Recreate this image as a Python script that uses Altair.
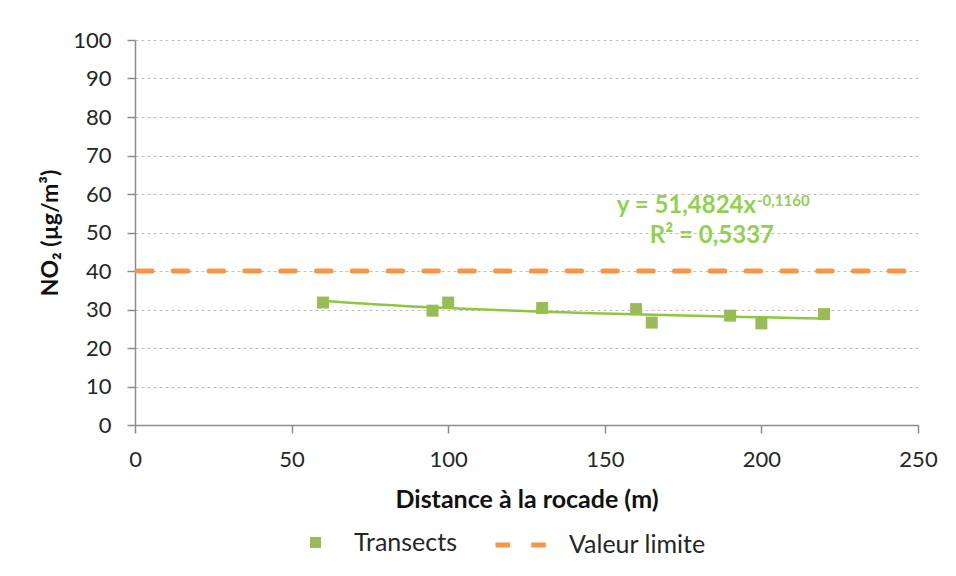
import altair as alt
import pandas as pd

# ---- data ----
distance = [60, 95, 100, 130, 160, 165, 190, 200, 220]
no2 = [31.8, 29.7, 31.8, 30.4, 30.1, 26.6, 28.4, 26.4, 28.8]
series_points = "Transects"
series_limit = "Valeur limite"
limit_value = [40]
limit_from = [0]
limit_to = [250]
x_ticks = [0, 50, 100, 150, 200, 250]
y_ticks = [0, 10, 20, 30, 40, 50, 60, 70, 80, 90, 100]
eq_main = ["y = 51,4824x"]
eq_exp = ["-0,1160"]
eq_r2 = ["R² = 0,5337"]

# annotation anchor positions (data units)
eq_main_pos = (198.3, 55.1)
eq_exp_pos = (198.6, 56.9)
eq_r2_pos = (184.2, 47.3)

FONT = "Lato"
GREEN_PT = "#9BBB59"
GREEN_TREND = "#8DC63F"
GREEN_TXT = "#92D050"
ORANGE = "#F79646"
AXIS_GRAY = "#8C8C8C"
TXT = "#262626"

pts = pd.DataFrame({"x": distance, "y": no2, "series": [series_points] * len(distance)})
lim = pd.DataFrame({"x": limit_from, "x2": limit_to, "y": limit_value, "series": [series_limit]})

xscale = alt.Scale(domain=[0, 250], nice=False, zero=False)
yscale = alt.Scale(domain=[0, 100], nice=False)

x_axis = alt.Axis(
    values=x_ticks, title="Distance à la rocade (m)", grid=False,
    domainColor=AXIS_GRAY, domainWidth=1.5, tickColor=AXIS_GRAY, tickWidth=1.5, tickSize=8,
    labelFont=FONT, labelFontSize=22, labelColor=TXT, labelPadding=16, labelFlush=False,
    titleFont=FONT, titleFontSize=25, titleFontWeight="bold", titleColor="#111111", titlePadding=17,
)
y_axis = alt.Axis(
    values=y_ticks, title="NO₂ (µg/m³)", grid=True, gridDash=[3, 3], gridColor="#BFBFBF", gridWidth=1,
    domainColor=AXIS_GRAY, domainWidth=1.5, tickColor=AXIS_GRAY, tickWidth=1.5, tickSize=8,
    labelFont=FONT, labelFontSize=22, labelColor=TXT, labelPadding=16,
    titleFont=FONT, titleFontSize=23, titleFontWeight="bold", titleColor="#111111", titlePadding=10,
)

X = alt.X("x:Q", scale=xscale, axis=x_axis)
Y = alt.Y("y:Q", scale=yscale, axis=y_axis)

limit = alt.Chart(lim).mark_rule(
    color=ORANGE, strokeWidth=5, strokeCap="round", strokeDashOffset=33.3
).encode(
    x=X, x2="x2:Q", y=Y,
    strokeDash=alt.StrokeDash(
        "series:N",
        scale=alt.Scale(domain=[series_limit], range=[[14.5, 21.3]]),
        legend=alt.Legend(
            title=None, orient="none", legendX=358, legendY=477, symbolType="stroke",
            symbolSize=2601, symbolStrokeColor=ORANGE, symbolStrokeWidth=5,
            labelFont=FONT, labelFontSize=25, labelColor=TXT, labelOffset=20,
        ),
    ),
)

points = alt.Chart(pts).mark_square(size=144, opacity=1, filled=True).encode(
    x=X, y=Y,
    color=alt.Color(
        "series:N",
        scale=alt.Scale(domain=[series_points], range=[GREEN_PT]),
        legend=alt.Legend(
            title=None, orient="none", legendX=168, legendY=490, symbolType="square",
            symbolSize=121, symbolStrokeWidth=0, symbolOpacity=1,
            labelFont=FONT, labelFontSize=25, labelColor=TXT, labelOffset=26,
        ),
    ),
)

trend = alt.Chart(pts).transform_regression(
    "x", "y", method="pow", extent=[60, 220]
).mark_line(color=GREEN_TREND, strokeWidth=2.5).encode(x=X, y=Y)

t1 = alt.Chart(pd.DataFrame({"x": [eq_main_pos[0]], "y": [eq_main_pos[1]], "t": eq_main})).mark_text(
    font=FONT, fontSize=24, fontWeight="bold", color=GREEN_TXT, align="right", baseline="alphabetic"
).encode(x=X, y=Y, text="t:N")
t2 = alt.Chart(pd.DataFrame({"x": [eq_exp_pos[0]], "y": [eq_exp_pos[1]], "t": eq_exp})).mark_text(
    font=FONT, fontSize=15, fontWeight="bold", color=GREEN_TXT, align="left", baseline="alphabetic"
).encode(x=X, y=Y, text="t:N")
t3 = alt.Chart(pd.DataFrame({"x": [eq_r2_pos[0]], "y": [eq_r2_pos[1]], "t": eq_r2})).mark_text(
    font=FONT, fontSize=24, fontWeight="bold", color=GREEN_TXT, align="center", baseline="alphabetic"
).encode(x=X, y=Y, text="t:N")

chart = alt.layer(limit, points, trend, t1, t2, t3).resolve_scale(
    color="independent", strokeDash="independent"
).properties(
    width=783, height=385,
    autosize=alt.AutoSizeParams(type="none"),
    padding={"left": 127, "top": 32, "right": 30, "bottom": 140},
    background="white",
).configure_view(stroke=None)

chart.save("out.html", embed_options={"renderer": "svg", "actions": False})
